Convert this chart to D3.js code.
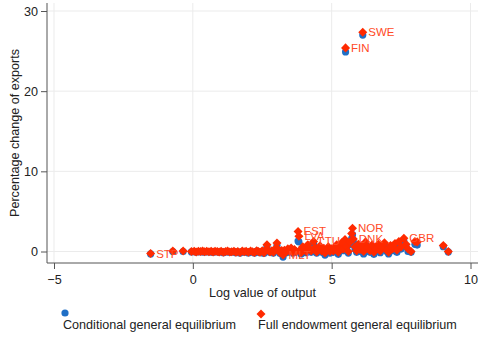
<!DOCTYPE html>
<html><head><meta charset="utf-8">
<script src="https://cdn.jsdelivr.net/npm/d3@7"></script>
<style>body{margin:0;background:#fff}svg{display:block;font-family:"Liberation Sans",Arial,sans-serif}</style>
</head><body><svg id="c" width="479" height="342"></svg>
<script>
// Log output, % change (conditional GE), % change (full endowment GE)
const logOutput = [-1.52,-0.72,-0.35,
-0.05,0.05,0.12,0.2,0.28,0.35,0.42,0.5,0.58,0.66,0.73,0.8,0.88,0.95,1.02,1.1,1.18,1.25,1.33,1.4,1.48,1.55,1.62,1.7,1.78,1.85,1.92,2.0,
2.08,2.15,2.22,2.3,2.36,2.42,2.5,2.56,2.62,2.67,2.72,2.78,2.85,2.9,2.96,3.03,3.08,3.14,3.2,3.25,3.3,3.36,3.42,3.48,3.54,3.6,3.66,3.72,
3.79,3.82,3.85,3.9,3.96,4.02,4.08,4.14,4.2,4.26,4.35,4.4,4.46,4.52,4.58,4.64,4.7,4.76,4.82,4.88,4.94,5.0,5.06,5.12,5.18,5.24,5.3,5.36,5.42,
5.5,5.48,5.54,5.6,5.75,5.78,5.66,5.72,5.84,5.9,5.96,6.12,6.02,6.08,6.15,6.22,6.3,6.38,6.45,6.52,6.6,6.68,6.75,6.82,6.9,6.98,7.05,7.12,7.2,7.28,7.35,7.42,7.5,
7.6,7.68,7.75,7.86,8.0,8.08,9.02,9.2];
const condGE = [-0.3,0.0,0.0,
-0.05,0.0,-0.1,0.0,-0.05,-0.02,-0.1,0.0,-0.08,-0.02,-0.12,0.0,-0.06,-0.1,0.0,-0.15,-0.05,-0.02,-0.12,-0.08,0.0,-0.15,-0.05,-0.2,0.0,-0.1,-0.05,-0.18,
0.0,-0.1,-0.2,0.05,-0.08,-0.15,0.0,-0.25,0.1,0.6,0.05,-0.12,0.0,-0.2,0.15,0.75,0.1,-0.25,0.0,-0.7,0.05,-0.15,0.2,-0.05,0.3,-0.2,0.1,-0.1,
1.3,1.2,0.0,-0.3,0.4,0.1,-0.15,0.6,0.2,-0.1,1.0,0.3,-0.2,0.1,0.5,-0.1,0.2,-0.45,0.05,0.4,-0.2,0.15,-0.1,0.3,0.6,-0.35,0.2,0.8,0.1,
24.9,1.2,0.4,-0.2,2.1,1.2,0.9,1.6,0.3,-0.1,0.6,27.0,0.0,0.4,-0.3,0.9,0.2,-0.1,0.5,-0.35,0.1,0.6,-0.15,0.3,0.8,0.0,-0.3,0.5,0.1,0.7,-0.1,0.9,0.3,
1.3,0.6,0.0,-0.1,0.9,0.8,0.6,-0.05];
const fullGE = [-0.25,0.05,0.05,
0.0,0.02,-0.05,0.03,0.0,0.05,-0.04,0.02,-0.03,0.04,-0.06,0.02,0.0,-0.05,0.03,-0.08,0.0,0.05,-0.06,-0.02,0.04,-0.1,0.0,-0.12,0.05,-0.04,0.02,-0.1,
0.06,-0.03,-0.12,0.1,0.0,-0.08,0.08,-0.15,0.2,0.85,0.15,-0.05,0.1,-0.1,0.3,1.05,0.25,-0.15,0.12,-0.45,0.15,-0.05,0.35,0.05,0.45,-0.1,0.25,0.0,
2.5,1.9,0.15,-0.15,0.6,0.25,0.0,0.85,0.35,0.05,1.25,0.5,-0.05,0.3,0.7,0.05,0.4,-0.2,0.2,0.6,0.0,0.35,0.05,0.5,0.85,-0.1,0.45,1.1,0.3,
25.4,1.5,0.65,0.0,2.9,1.55,1.2,2.25,0.6,0.1,0.9,27.35,0.25,0.7,0.0,1.2,0.5,0.1,0.8,-0.1,0.3,0.9,0.05,0.55,1.1,0.2,-0.1,0.75,0.35,1.0,0.15,1.25,0.55,
1.65,0.9,0.3,0.0,1.25,1.2,0.75,0.0];
// labelled countries and their log output (matched to the points above)
const labelNames = ["STP","MLT","EST","LVA","LTU","FIN","NOR","DNK","SWE","GBR"];
const labelLogOutput = [-1.52,3.25,3.79,3.82,4.35,5.5,5.75,5.78,6.12,7.6];
const xTicks = [-5,0,5,10];
const yTicks = [0,10,20,30];

const data = logOutput.map((x,i)=>{
  const k = labelLogOutput.indexOf(x);
  return {x, c:condGE[i], f:fullGE[i], lab: k>=0 ? labelNames[k] : ""};
});

const svg = d3.select("#c");
const L=47, R=478, T=3, B=263;
const x = d3.scaleLinear().domain([-5,10]).range([54,470.5]);
const y = d3.scaleLinear().domain([0,30]).range([251.5,11]);
const RED="#ff2a00", BLUE="#1f6fc6", TXT="#222";
const FS="12.6px";

// gridlines
const g = svg.append("g");
g.selectAll(".gx").data(xTicks).join("line").attr("x1",d=>x(d)).attr("x2",d=>x(d)).attr("y1",T).attr("y2",B).attr("stroke","#ebebeb").attr("stroke-width",1);
g.selectAll(".gy").data(yTicks).join("line").attr("x1",L).attr("x2",R).attr("y1",d=>y(d)).attr("y2",d=>y(d)).attr("stroke","#ebebeb").attr("stroke-width",1);

// axes
const xa = svg.append("g").attr("transform",`translate(0,${B})`).call(d3.axisBottom(x).tickValues(xTicks).tickSize(6).tickSizeOuter(0).tickPadding(4));
xa.select(".domain").attr("d",`M${L},0H${R}`);
const ya = svg.append("g").attr("transform",`translate(${L},0)`).call(d3.axisLeft(y).tickValues(yTicks).tickSize(6).tickSizeOuter(0).tickPadding(3));
ya.select(".domain").attr("d",`M0,${T}V${B}`);
[xa,ya].forEach(a=>{a.selectAll("path,line").attr("stroke","#555").attr("stroke-width",1);
  a.selectAll("text").attr("fill",TXT).style("font-size",FS).style("font-family","'Liberation Sans',Arial,sans-serif");});
xa.selectAll("text").attr("dy","0.85em");

// points: conditional (blue circles) then full (red diamonds)
const pts = svg.append("g");
pts.selectAll("circle").data(data).join("circle").attr("cx",d=>x(d.x)).attr("cy",d=>y(d.c)).attr("r",3.6).attr("fill",BLUE);
const dia = d3.symbol().type(d3.symbolDiamond2).size(52);
pts.selectAll("path.f").data(data).join("path").attr("class","f").attr("d",dia).attr("transform",d=>`translate(${x(d.x)},${y(d.f)})`).attr("fill",RED);
svg.append("g").selectAll("text").data(data.filter(d=>d.lab)).join("text")
  .attr("x",d=>x(d.x)+5.5).attr("y",d=>y(d.f)+4).text(d=>d.lab)
  .attr("fill","#ff4a26").style("font-size","11.5px");

// titles
svg.append("text").attr("x",(L+R)/2).attr("y",297).attr("text-anchor","middle").attr("fill",TXT).style("font-size",FS).text("Log value of output");
svg.append("text").attr("transform",`translate(19,${(T+B)/2}) rotate(-90)`).attr("text-anchor","middle").attr("fill",TXT).style("font-size",FS).text("Percentage change of exports");

// legend
const lg = svg.append("g");
lg.append("circle").attr("cx",65).attr("cy",313).attr("r",3.6).attr("fill",BLUE);
lg.append("text").attr("x",63).attr("y",329).attr("fill",TXT).style("font-size",FS).text("Conditional general equilibrium");
lg.append("path").attr("d",dia).attr("transform","translate(261,314)").attr("fill",RED);
lg.append("text").attr("x",258).attr("y",329).attr("fill",TXT).style("font-size",FS).text("Full endowment general equilibrium");
</script></body></html>
